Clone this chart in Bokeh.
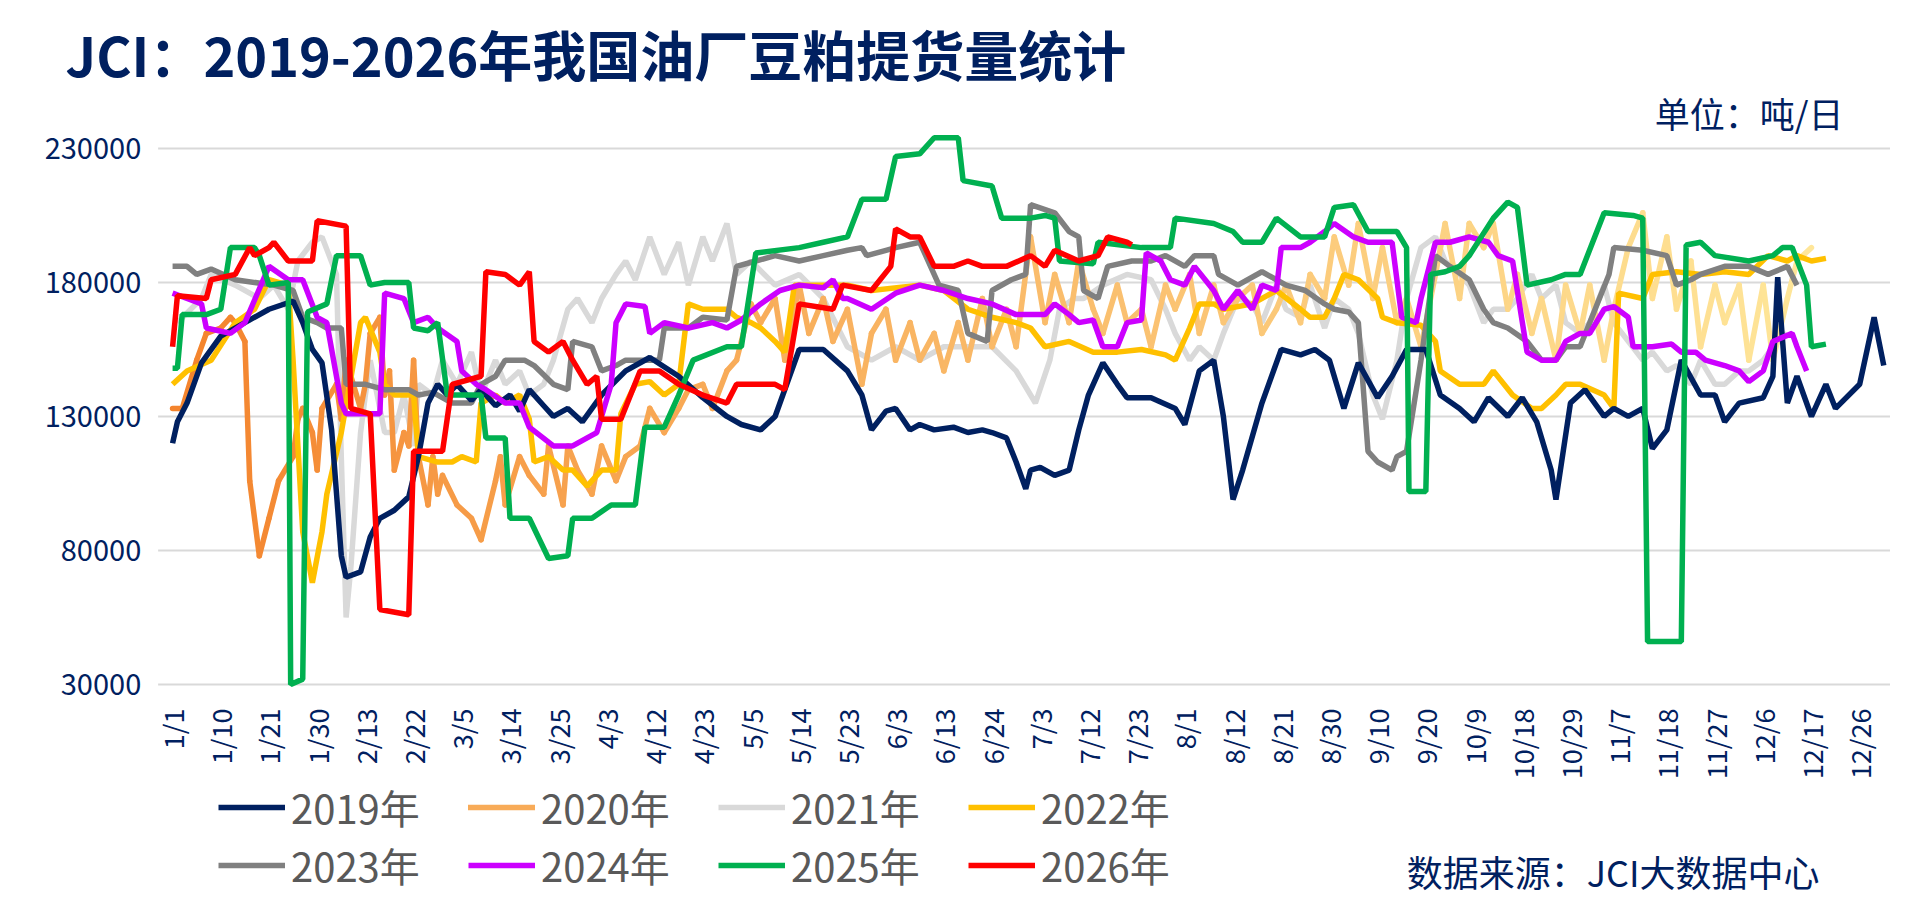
from bokeh.plotting import figure
from bokeh.models import Legend, LegendItem, Range1d, Label
from bokeh.core.properties import value
from bokeh.embed import file_html
from bokeh.resources import INLINE
import math

# x axis: chart position, one tick every 10 units
tick_pos = list(range(0, 360, 10))
tick_labels = ["1/1", "1/10", "1/21", "1/30", "2/13", "2/22", "3/5", "3/14", "3/25", "4/3",
               "4/12", "4/23", "5/5", "5/14", "5/23", "6/3", "6/13", "6/24", "7/3", "7/12",
               "7/23", "8/1", "8/12", "8/21", "8/30", "9/10", "9/20", "10/9", "10/18", "10/29",
               "11/7", "11/18", "11/27", "12/6", "12/17", "12/26"]
y_ticks = [30000, 80000, 130000, 180000, 230000]

# values in thousand tonnes/day
x2019 = [0, 1, 3, 6, 10, 15, 20, 25, 27, 29, 31, 33, 35, 36, 39, 41, 43, 46, 49, 51, 53, 55, 57, 59, 62, 64, 67, 70, 72, 74, 77, 79, 82, 85, 89, 94, 99, 105, 110, 115, 118, 122, 125, 130, 135, 140, 143, 145, 148, 150, 153, 155, 158, 162, 165, 168, 170, 173, 175, 177, 178, 180, 183, 186, 188, 190, 193, 196, 198, 203, 208, 210, 213, 216, 218, 220, 222, 226, 230, 234, 237, 240, 243, 246, 250, 253, 256, 260, 263, 267, 270, 273, 277, 280, 283, 286, 287, 290, 293, 297, 299, 302, 305, 307, 310, 313, 317, 320, 322, 325, 330, 332, 333, 335, 337, 340, 343, 345, 350, 353, 355]
y2019 = [120, 128, 135, 150, 160, 165, 170, 173, 165, 155, 150, 125, 78, 70, 72, 85, 92, 95, 100, 115, 135, 142, 138, 142, 136, 140, 134, 138, 132, 140, 134, 130, 133, 128, 138, 147, 152, 145, 137, 130, 127, 125, 130, 155, 155, 147, 138, 125, 132, 133, 125, 127, 125, 126, 124, 125, 124, 122, 113, 103, 110, 111, 108, 110, 125, 138, 150, 142, 137, 137, 133, 127, 147, 151, 130, 99, 110, 135, 155, 153, 155, 151, 133, 150, 137, 145, 155, 155, 138, 133, 128, 137, 130, 137, 128, 110, 99, 135, 140, 130, 133, 130, 133, 118, 125, 151, 138, 138, 128, 135, 137, 145, 182, 135, 145, 130, 142, 133, 142, 167, 149]

x2020 = [0, 2, 5, 7, 10, 12, 13, 15, 16, 18, 20, 22, 25, 26, 27, 29, 30, 31, 34, 35, 36, 39, 40, 41, 43, 44, 45, 46, 48, 49, 50, 51, 53, 54, 55, 56, 59, 62, 64, 67, 68, 69, 72, 74, 77, 78, 81, 82, 84, 87, 89, 92, 94, 97, 99, 102, 105, 107, 110, 112, 115, 117, 120, 122, 125, 127, 130, 132, 135, 137, 140, 143, 145, 148, 150, 153, 155, 158, 160, 163, 165, 168, 170, 173, 175, 178, 181, 183, 186, 188, 191, 193, 196, 198, 201, 203, 206, 208, 211, 213, 216, 218, 221, 224, 226, 229, 231, 234, 236, 239, 241, 244, 246, 249, 251, 254, 256, 259, 262, 264, 267, 269, 272, 274, 277, 279, 282, 284, 287, 289, 292, 294, 297, 299, 302, 305, 307, 310, 312, 315, 317, 320, 322, 325, 327, 330, 332, 335, 337, 340]
y2020 = [133, 133, 151, 161, 163, 167, 165, 158, 106, 78, 92, 106, 115, 129, 133, 124, 110, 133, 142, 129, 151, 133, 142, 161, 167, 138, 147, 110, 124, 119, 151, 115, 97, 115, 101, 108, 97, 92, 84, 106, 115, 97, 115, 108, 101, 119, 97, 119, 110, 101, 119, 106, 115, 119, 133, 124, 133, 140, 142, 133, 147, 151, 172, 165, 174, 151, 179, 161, 174, 158, 170, 142, 161, 170, 151, 165, 151, 161, 147, 165, 151, 174, 156, 170, 156, 197, 165, 183, 165, 188, 170, 161, 179, 165, 170, 156, 179, 170, 183, 161, 179, 165, 174, 179, 161, 170, 179, 165, 183, 174, 197, 179, 202, 174, 193, 165, 174, 156, 183, 202, 174, 202, 193, 202, 170, 183, 161, 174, 151, 179, 161, 179, 151, 170, 193, 206, 174, 197, 170, 188, 156, 179, 165, 179, 151, 179, 151, 174, 188, 193]

x2021 = [1, 6, 8, 13, 18, 21, 24, 26, 29, 31, 34, 35, 36, 37, 39, 40, 41, 44, 46, 48, 50, 51, 54, 56, 59, 62, 64, 67, 69, 72, 74, 77, 79, 82, 84, 87, 89, 92, 94, 96, 99, 102, 105, 107, 110, 112, 115, 117, 120, 125, 130, 135, 140, 145, 150, 155, 160, 165, 170, 175, 178, 179, 182, 184, 187, 189, 193, 198, 203, 206, 208, 211, 213, 216, 218, 221, 224, 226, 229, 231, 234, 236, 239, 241, 244, 246, 249, 251, 254, 256, 259, 262, 264, 267, 269, 272, 274, 277, 279, 282, 284, 287, 289, 292, 294, 297, 299, 302, 305, 307, 310, 312, 315, 317, 320, 322, 325, 327, 330, 332, 335]
y2021 = [165, 174, 183, 179, 174, 179, 170, 188, 195, 197, 183, 115, 55, 74, 124, 138, 151, 124, 124, 138, 119, 142, 138, 151, 142, 154, 138, 151, 142, 147, 138, 142, 151, 170, 174, 165, 174, 183, 188, 181, 197, 183, 195, 179, 197, 188, 202, 183, 188, 179, 183, 174, 156, 151, 156, 151, 156, 156, 156, 147, 138, 135, 151, 170, 174, 174, 179, 183, 181, 170, 161, 151, 156, 151, 161, 174, 172, 165, 179, 170, 167, 179, 163, 174, 170, 161, 138, 129, 151, 174, 193, 197, 188, 183, 179, 165, 170, 170, 174, 183, 174, 179, 165, 161, 165, 179, 165, 158, 151, 154, 147, 149, 142, 151, 142, 142, 147, 147, 151, 156, 161]

x2022 = [0, 3, 8, 13, 17, 20, 24, 25, 26, 27, 29, 31, 32, 35, 39, 40, 43, 44, 46, 50, 51, 55, 58, 60, 63, 64, 67, 69, 72, 74, 75, 78, 81, 83, 86, 89, 92, 93, 96, 99, 102, 105, 107, 110, 115, 117, 120, 122, 125, 127, 129, 140, 145, 155, 160, 165, 170, 175, 178, 181, 186, 191, 196, 201, 206, 208, 211, 213, 216, 218, 224, 229, 234, 236, 239, 241, 243, 246, 250, 251, 254, 259, 262, 263, 267, 272, 274, 278, 282, 284, 287, 289, 292, 297, 299, 300, 305, 307, 312, 317, 322, 327, 331, 335, 337, 340, 343]
y2022 = [142, 147, 151, 165, 170, 181, 179, 151, 119, 87, 68, 87, 101, 124, 165, 167, 154, 142, 138, 138, 115, 113, 113, 115, 113, 135, 138, 135, 138, 129, 113, 115, 110, 110, 104, 110, 110, 131, 142, 143, 138, 142, 172, 170, 170, 167, 165, 163, 158, 154, 179, 179, 177, 179, 177, 170, 167, 165, 163, 156, 158, 154, 154, 155, 153, 151, 163, 172, 172, 170, 172, 177, 170, 167, 167, 174, 183, 181, 174, 167, 165, 164, 158, 147, 142, 142, 147, 138, 133, 133, 138, 142, 142, 138, 133, 176, 174, 183, 184, 183, 184, 183, 190, 188, 190, 188, 189]

x2023 = [0, 3, 5, 8, 13, 21, 25, 27, 30, 32, 35, 36, 40, 44, 49, 51, 54, 58, 62, 64, 67, 69, 73, 75, 79, 82, 83, 87, 89, 92, 94, 98, 101, 102, 107, 110, 115, 117, 121, 125, 130, 135, 140, 143, 144, 148, 150, 155, 159, 163, 165, 169, 170, 174, 177, 178, 183, 186, 188, 189, 192, 194, 199, 203, 206, 210, 212, 216, 217, 221, 226, 229, 231, 235, 239, 241, 244, 246, 248, 250, 253, 254, 256, 259, 262, 265, 269, 272, 274, 277, 281, 284, 287, 289, 292, 294, 298, 299, 305, 310, 312, 315, 317, 322, 327, 331, 335, 337]
y2023 = [186, 186, 183, 185, 181, 179, 177, 167, 165, 163, 163, 142, 142, 140, 140, 138, 139, 135, 135, 142, 145, 151, 151, 149, 142, 140, 158, 156, 147, 149, 151, 151, 151, 163, 163, 167, 166, 186, 188, 190, 188, 190, 192, 193, 190, 192, 193, 195, 179, 177, 161, 158, 177, 181, 183, 209, 206, 199, 197, 177, 174, 186, 188, 188, 190, 186, 190, 190, 183, 179, 184, 181, 179, 177, 172, 170, 169, 165, 117, 113, 110, 115, 117, 151, 190, 186, 181, 170, 165, 163, 158, 151, 151, 156, 156, 165, 183, 193, 192, 190, 179, 181, 183, 186, 186, 183, 186, 179]

x2024 = [0, 3, 6, 7, 12, 15, 20, 24, 27, 30, 32, 35, 36, 43, 44, 48, 50, 53, 55, 59, 60, 63, 65, 69, 72, 74, 79, 83, 86, 88, 91, 92, 94, 98, 99, 102, 107, 112, 115, 118, 122, 126, 130, 135, 137, 139, 140, 145, 150, 155, 160, 165, 170, 175, 181, 183, 186, 188, 191, 193, 196, 198, 201, 202, 205, 207, 210, 212, 216, 218, 221, 224, 226, 229, 230, 234, 236, 239, 241, 245, 248, 253, 255, 258, 259, 262, 265, 269, 273, 275, 278, 281, 284, 287, 289, 292, 294, 297, 299, 302, 303, 307, 311, 313, 316, 318, 322, 325, 327, 330, 332, 336, 337, 339]
y2024 = [176, 174, 172, 163, 161, 165, 186, 181, 181, 167, 165, 135, 131, 131, 176, 174, 165, 167, 163, 158, 147, 142, 140, 135, 135, 126, 119, 119, 122, 124, 142, 165, 172, 171, 161, 165, 163, 165, 163, 166, 172, 177, 179, 178, 181, 174, 174, 170, 176, 179, 177, 174, 172, 168, 168, 172, 168, 165, 166, 156, 156, 165, 166, 191, 188, 181, 179, 186, 177, 170, 177, 170, 179, 177, 193, 193, 195, 199, 202, 197, 195, 195, 167, 165, 174, 195, 195, 197, 195, 190, 188, 154, 151, 151, 158, 161, 161, 170, 171, 167, 156, 156, 157, 154, 154, 151, 149, 147, 143, 147, 158, 161, 156, 147]

x2025 = [0, 1, 2, 7, 10, 12, 17, 18, 20, 24, 24.5, 27, 28, 32, 34, 39, 41, 44, 49, 50, 53, 55, 57, 64, 65, 69, 70, 74, 78, 82, 83, 87, 91, 96, 98, 102, 105, 108, 115, 118, 121, 130, 135, 140, 143, 148, 150, 155, 158, 163, 164, 170, 172, 178, 181, 183, 184, 191, 192, 201, 207, 208, 216, 220, 222, 226, 229, 234, 239, 241, 245, 248, 254, 256, 256.5, 260, 261, 264, 267, 269, 274, 277, 279, 281, 286, 289, 292, 297, 303, 305, 306, 313, 314, 317, 320, 327, 332, 334, 336, 339, 340, 343]
y2025 = [148, 148, 168, 168, 170, 193, 193, 190, 179, 180, 30, 32, 169, 172, 190, 190, 179, 180, 180, 163, 162, 165, 138, 138, 122, 122, 92, 92, 77, 78, 92, 92, 97, 97, 126, 126, 138, 151, 156, 156, 191, 193, 195, 197, 211, 211, 227, 228, 234, 234, 218, 216, 204, 204, 205, 204, 188, 187, 195, 193, 193, 204, 202, 199, 195, 195, 204, 197, 197, 208, 209, 199, 199, 193, 102, 102, 183, 184, 186, 190, 204, 210, 208, 179, 181, 183, 183, 206, 205, 204, 46, 46, 194, 195, 190, 188, 190, 193, 193, 179, 156, 157]

x2026 = [0, 1, 7, 8, 13, 16, 17, 20, 21, 24, 29, 30, 36, 37, 41, 43, 49, 50, 56, 58, 64, 65, 69, 72, 74, 75, 78, 81, 83, 86, 88, 89, 93, 97, 101, 105, 110, 115, 117, 125, 127, 130, 137, 139, 145, 149, 150, 153, 155, 158, 162, 165, 168, 173, 178, 181, 183, 188, 192, 194, 198, 199]
y2026 = [156, 175, 174, 181, 183, 193, 190, 193, 195, 188, 188, 203, 201, 133, 131, 58, 56, 117, 117, 142, 145, 184, 183, 179, 184, 158, 154, 158, 151, 142, 145, 129, 129, 147, 147, 142, 138, 135, 142, 142, 140, 172, 170, 179, 177, 186, 200, 197, 197, 186, 186, 188, 186, 186, 190, 186, 192, 188, 190, 197, 195, 194]

NAVY = "#002060"
FONT = "Noto Sans CJK SC"

# whole canvas is the frame; axes are drawn by hand
p = figure(width=1890, height=900, output_backend="svg", toolbar_location=None,
           x_range=Range1d(-35.7, 356.4), y_range=Range1d(-50600, 285200),
           min_border=0)
p.outline_line_color = None
p.axis.visible = False
p.grid.visible = False

# grid lines and tick labels
p.segment(x0=-3, x1=357, y0=y_ticks, y1=y_ticks, line_color="#D9D9D9", line_width=2)
p.text(x=-6.5, y=y_ticks, text=[str(v) for v in y_ticks], text_align="right",
       text_baseline="middle", text_font=value(FONT), text_font_size="29px", text_color=NAVY)
p.text(x=tick_pos, y=21000, text=tick_labels, angle=math.pi / 2, text_align="right",
       text_baseline="middle", text_font=value(FONT), text_font_size="27px", text_color=NAVY)

def k(vals):
    return [v * 1000 for v in vals]

W = 5.5
r2021 = p.line(x2021, k(y2021), line_color="#D9D9D9", line_width=W)

# 2020: gradient from orange to pale yellow
c0 = (244, 132, 45)
c1 = (255, 230, 153)
xs, ys, cols = [], [], []
n = len(x2020)
for i in range(n - 1):
    f = i / (n - 2)
    c = tuple(int(c0[j] + (c1[j] - c0[j]) * f) for j in range(3))
    xs.append([x2020[i], x2020[i + 1]])
    ys.append([y2020[i] * 1000, y2020[i + 1] * 1000])
    cols.append("#%02x%02x%02x" % c)
r2020 = p.multi_line(xs, ys, line_color=cols, line_width=W, line_cap="round")

r2022 = p.line(x2022, k(y2022), line_color="#FFC000", line_width=W)
r2023 = p.line(x2023, k(y2023), line_color="#808080", line_width=W)
r2019 = p.line(x2019, k(y2019), line_color=NAVY, line_width=W)
r2024 = p.line(x2024, k(y2024), line_color="#CC00FF", line_width=W)
r2025 = p.line(x2025, k(y2025), line_color="#00B050", line_width=W)
r2026 = p.line(x2026, k(y2026), line_color="#FF0000", line_width=W)

legend = Legend(items=[
    LegendItem(label="2019年", renderers=[r2019]),
    LegendItem(label="2020年", renderers=[r2020], index=60),
    LegendItem(label="2021年", renderers=[r2021]),
    LegendItem(label="2022年", renderers=[r2022]),
    LegendItem(label="2023年", renderers=[r2023]),
    LegendItem(label="2024年", renderers=[r2024]),
    LegendItem(label="2025年", renderers=[r2025]),
    LegendItem(label="2026年", renderers=[r2026]),
], ncols=4, location=(218, 6), orientation="horizontal",
    label_text_font=FONT, label_text_font_size="40px", label_text_color="#595959",
    glyph_width=67, glyph_height=54, spacing=0, label_standoff=6,
    label_width=177, label_height=54,
    border_line_color=None, background_fill_alpha=0, padding=0, margin=0)
p.add_layout(legend, "center")

p.add_layout(Label(x=65, y=847, x_units="screen", y_units="screen",
                   text="JCI：2019-2026年我国油厂豆粕提货量统计", text_baseline="middle",
                   text_font=FONT, text_font_size="54px", text_font_style="bold", text_color=NAVY))
p.add_layout(Label(x=1843, y=788, x_units="screen", y_units="screen", text="单位：吨/日",
                   text_align="right", text_baseline="middle",
                   text_font=FONT, text_font_size="35px", text_color=NAVY))
p.add_layout(Label(x=1819, y=30, x_units="screen", y_units="screen", text="数据来源：JCI大数据中心",
                   text_align="right", text_baseline="middle",
                   text_font=FONT, text_font_size="36px", text_color=NAVY))

open("out.html", "w").write(file_html(p, INLINE))
